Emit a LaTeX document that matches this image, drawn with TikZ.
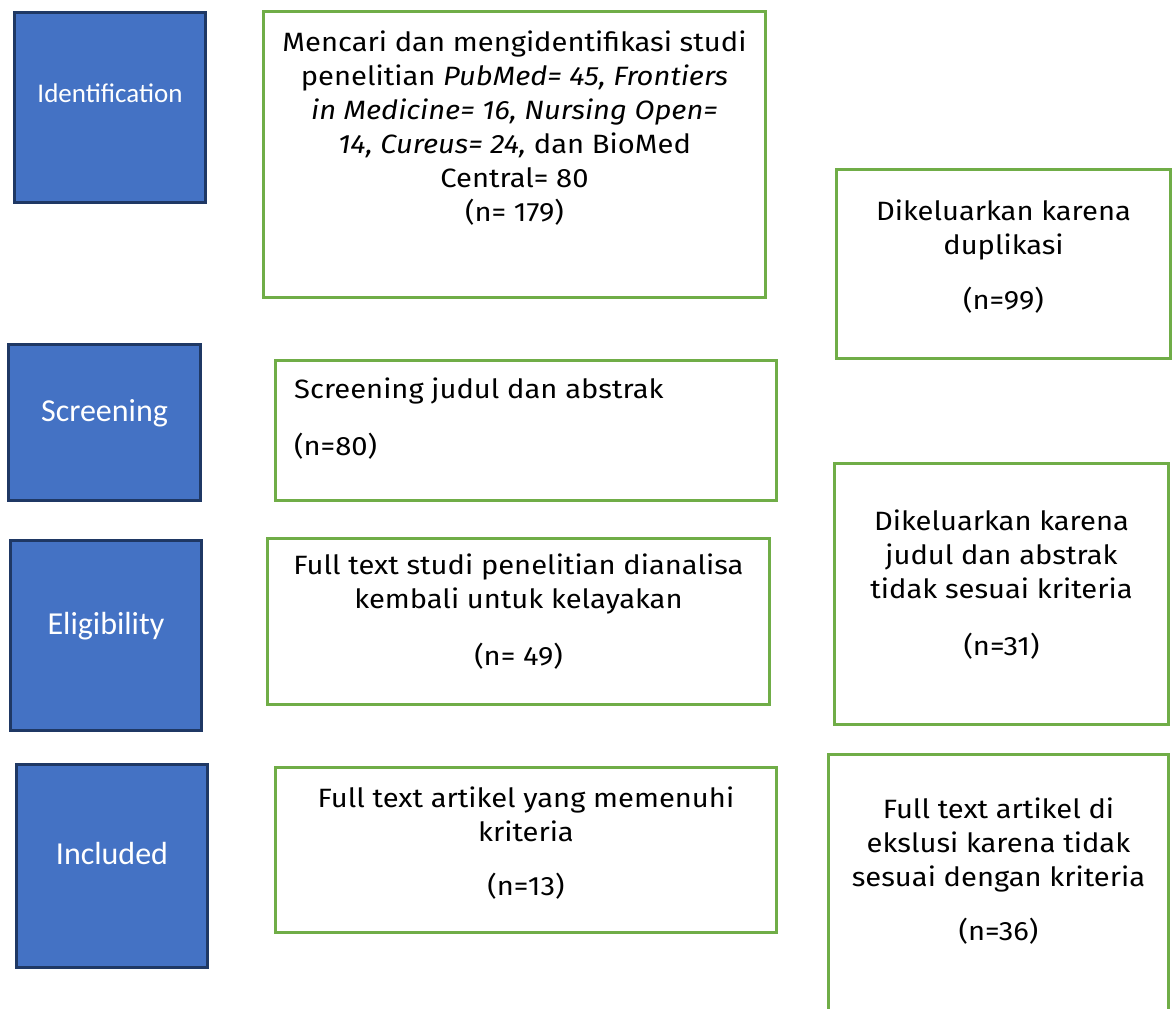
\documentclass[tikz,border=0pt]{standalone}
\usepackage{fontspec}
\setmainfont[FakeStretch=1.1]{Fira Sans}
\newfontfamily\blfont{Carlito}
\definecolor{boxblue}{HTML}{4472C4}
\definecolor{boxnavy}{HTML}{1F3864}
\definecolor{boxgreen}{HTML}{70AD47}
\begin{document}
\begin{tikzpicture}[x=1pt,y=-1pt,
  phase/.style={draw=boxnavy, fill=boxblue, line width=2.5pt, inner sep=0pt},
  gbox/.style={draw=boxgreen, line width=3pt, inner sep=0pt},
  phasetext/.style={text=white, font=\blfont\fontsize{32}{36}\selectfont, inner sep=0pt, anchor=base},
  gtext/.style={align=center, font=\fontsize{26.5}{34}\selectfont, inner sep=0pt, anchor=north}]
\useasboundingbox (0,0) rectangle (1173,1009);
% phase boxes
\node[phase, minimum width=191pt, minimum height=190pt] (pid) at (110,107.5) {};
\node[phase, minimum width=192pt, minimum height=156pt] (pscr) at (104.5,422.5) {};
\node[phase, minimum width=191pt, minimum height=190pt] (pelig) at (106,635.5) {};
\node[phase, minimum width=191pt, minimum height=203pt] (pincl) at (112,866) {};
\node[phasetext, font=\blfont\fontsize{27}{30}\selectfont] (tid) at (110,102) {Identification};
\node[phasetext] (tscr) at (104.5,421) {Screening};
\node[phasetext] (telig) at (106,634) {Eligibility};
\node[phasetext] (tincl) at (112,864) {Included};
% green boxes
\node[gbox, minimum width=502pt, minimum height=286pt] (main) at (514.5,154.5) {};
\node[gbox, minimum width=334pt, minimum height=189pt] (dup) at (1003.5,264) {};
\node[gbox, minimum width=501pt, minimum height=140pt] (scr) at (526,430.5) {};
\node[gbox, minimum width=502pt, minimum height=166pt] (ft) at (518.5,621.5) {};
\node[gbox, minimum width=334pt, minimum height=261pt] (exa) at (1001.5,594) {};
\node[gbox, minimum width=501pt, minimum height=165pt] (incl) at (526,850) {};
\node[gbox, minimum width=340pt, minimum height=264pt] (exb) at (998.5,886.5) {};
% texts
\node[gtext] (tmain) at (514.5,31) {Mencari dan mengidentifikasi studi\\
penelitian \textit{PubMed= 45, Frontiers}\\
\textit{in Medicine= 16, Nursing Open=}\\
\textit{14, Cureus= 24,} dan BioMed\\
Central= 80\\
(n= 179)};
\node[gtext] (tdup) at (1003.5,200) {Dikeluarkan karena\\duplikasi\\[21pt](n=99)};
\node[gtext, align=left, anchor=north west] (tscrb) at (294,378) {Screening judul dan abstrak\\[23pt](n=80)};
\node[gtext] (tft) at (518.5,554) {Full text studi penelitian dianalisa\\kembali untuk kelayakan\\[23pt](n= 49)};
\node[gtext] (texa) at (1001.5,510) {Dikeluarkan karena\\judul dan abstrak\\tidak sesuai kriteria\\[23pt](n=31)};
\node[gtext] (tincb) at (526,787) {Full text artikel yang memenuhi\\kriteria\\[20pt](n=13)};
\node[gtext] (texb) at (998.5,798) {Full text artikel di\\ekslusi karena tidak\\sesuai dengan kriteria\\[20pt](n=36)};
\end{tikzpicture}
\end{document}
